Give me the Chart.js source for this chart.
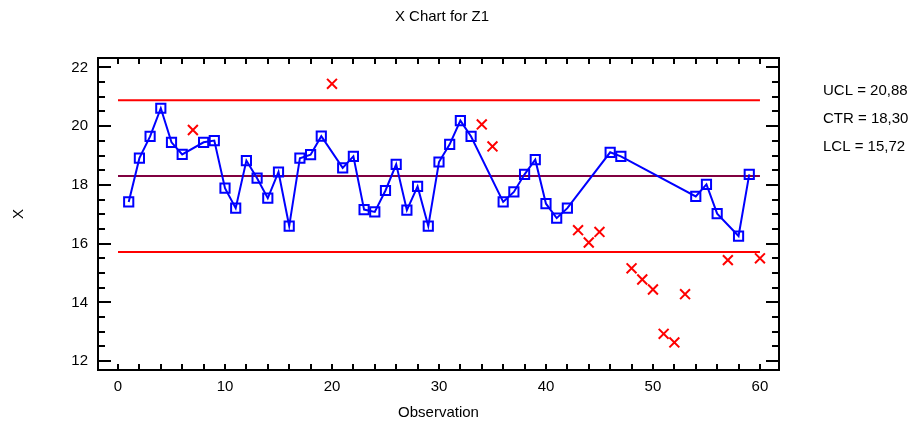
<!DOCTYPE html>
<html>
<head>
<meta charset="utf-8">
<title>X Chart for Z1</title>
<script src="https://cdn.jsdelivr.net/npm/chart.js@4.4.1/dist/chart.umd.min.js"></script>
<style>
    html, body { margin: 0; padding: 0; background: #fff; }
    canvas { display: block; }
</style>
</head>
<body>
<canvas id="chart" width="917" height="428"></canvas>
<script>
// Individual observations of Z1, in order (observation 1..60)
const Z1_VALUES = [
    17.42, 18.91, 19.65, 20.61, 19.45, 19.04, 19.87, 19.45, 19.51, 17.89,
    17.21, 18.83, 18.23, 17.55, 18.44, 16.60, 18.91, 19.03, 19.66, 21.44,
    18.58, 18.97, 17.16, 17.08, 17.81, 18.70, 17.14, 17.95, 16.60, 18.78,
    19.38, 20.19, 19.65, 20.06, 19.31, 17.42, 17.76, 18.36, 18.86, 17.36,
    16.87, 17.21, 16.46, 16.04, 16.40, 19.11, 18.97, 15.16, 14.78, 14.44,
    12.93, 12.64, 14.28, 17.61, 18.02, 17.02, 15.44, 16.26, 18.36, 15.50,
];

// observations excluded from the limit estimates (drawn as x)
const EXCLUDED = [7, 20, 34, 35, 43, 44, 45, 48, 49, 50, 51, 52, 53, 57, 60];

// control limits
const UCL = 20.88;
const CTR = 18.30;
const LCL = 15.72;

const X_TICK_STEP = 10;
const Y_TICK_STEP = 2;

const TITLE = "X Chart for Z1";
const FONT = "'Liberation Sans', Arial, Helvetica, sans-serif";
Chart.defaults.font.family = FONT;
Chart.defaults.font.size = 15;
Chart.defaults.color = "#000";

const kept = [];
const dropped = [];
Z1_VALUES.forEach((v, i) => {
    const pt = { x: i + 1, y: v };
    if (EXCLUDED.includes(i + 1)) dropped.push(pt);
    else kept.push(pt);
});

function limitLine(value, color, order) {
    return {
        data: [{ x: 0, y: value }, { x: Z1_VALUES.length, y: value }],
        showLine: true,
        borderColor: color,
        borderWidth: 2,
        pointRadius: 0,
        order,
    };
}

function fmt(v) {
    return v.toFixed(2).replace(".", ",");
}

// box frame with inward ticks on all four sides, title and limit legend
const frameTicks = {
    id: "frameTicks",
    afterDatasetsDraw(chart) {
        const { ctx, chartArea: a, scales } = chart;
        const xs = scales.x;
        const ys = scales.y;
        ctx.save();
        ctx.strokeStyle = "#000";
        ctx.lineWidth = 2;
        ctx.beginPath();
        for (let v = 0; v <= 60; v += 2) {
            const px = Math.round(xs.getPixelForValue(v));
            ctx.moveTo(px, a.bottom);
            ctx.lineTo(px, a.bottom - 6);
            ctx.moveTo(px, a.top);
            ctx.lineTo(px, a.top + 6);
        }
        for (let v = 12; v <= 22; v += 0.5) {
            const py = Math.round(ys.getPixelForValue(v));
            const len = v % Y_TICK_STEP === 0 ? 13 : 7;
            ctx.moveTo(a.left, py);
            ctx.lineTo(a.left + len, py);
            ctx.moveTo(a.right, py);
            ctx.lineTo(a.right - len, py);
        }
        ctx.stroke();
        ctx.strokeRect(a.left, a.top, a.width, a.height);

        ctx.fillStyle = "#000";
        ctx.font = "15px " + FONT;
        ctx.textBaseline = "middle";
        ctx.textAlign = "center";
        ctx.fillText(TITLE, 442, 17);

        ctx.textAlign = "left";
        const lx = a.right + 44;
        ctx.fillText("UCL = " + fmt(UCL), lx, 91);
        ctx.fillText("CTR = " + fmt(CTR), lx, 119);
        ctx.fillText("LCL = " + fmt(LCL), lx, 147);
        ctx.restore();
    },
};

new Chart(document.getElementById("chart"), {
    type: "scatter",
    data: {
        datasets: [
            {
                data: kept,
                showLine: true,
                borderColor: "#0000ff",
                borderWidth: 2,
                pointStyle: "rect",
                pointRadius: 6.5,
                pointBorderWidth: 2,
                pointBorderColor: "#0000ff",
                pointBackgroundColor: "rgba(0,0,0,0)",
                order: 0,
            },
            {
                data: dropped,
                showLine: false,
                pointStyle: "crossRot",
                pointRadius: 7,
                pointBorderWidth: 2,
                pointBorderColor: "#ff0000",
                order: 1,
            },
            limitLine(UCL, "#ff0000", 2),
            limitLine(CTR, "#800040", 3),
            limitLine(LCL, "#ff0000", 4),
        ],
    },
    options: {
        responsive: false,
        animation: false,
        layout: { padding: { left: 0, right: 138, top: 58, bottom: 0 } },
        plugins: {
            legend: { display: false },
            tooltip: { enabled: false },
            title: { display: false },
        },
        scales: {
            x: {
                type: "linear",
                min: -1.87,
                max: 61.78,
                grid: { display: false, drawTicks: false },
                border: { display: false },
                ticks: { stepSize: X_TICK_STEP, includeBounds: false, padding: 8 },
                title: {
                    display: true,
                    text: "Observation",
                    padding: { top: 0, bottom: 6 },
                },
                afterFit: (s) => { s.height = 58; },
            },
            y: {
                min: 11.70,
                max: 22.32,
                grid: { display: false, drawTicks: false },
                border: { display: false },
                ticks: { stepSize: Y_TICK_STEP, includeBounds: false, padding: 10 },
                title: {
                    display: true,
                    text: "X",
                    padding: { top: 10, bottom: 0 },
                },
                afterFit: (s) => { s.width = 98; },
            },
        },
    },
    plugins: [frameTicks],
});
</script>
</body>
</html>
